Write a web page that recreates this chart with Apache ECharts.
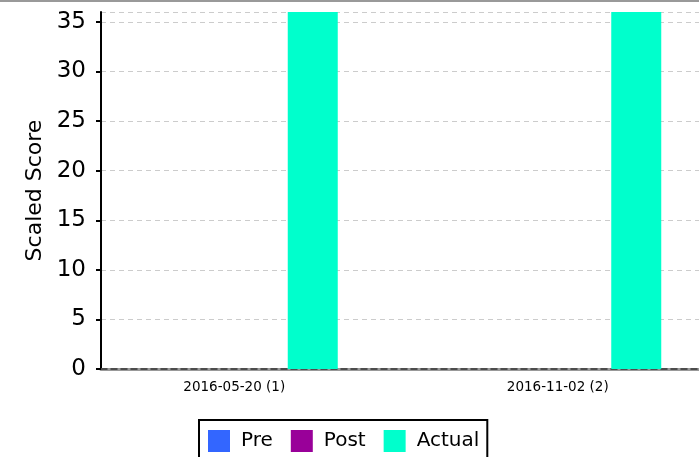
<!DOCTYPE html>
<html>
<head>
<meta charset="utf-8">
<script src="https://cdn.jsdelivr.net/npm/echarts@6/dist/echarts.min.js"></script>
<style>
html,body{margin:0;padding:0;background:#fff;overflow:hidden;width:699px;height:457px;}
#c{width:748px;height:457px;}
</style>
</head>
<body>
<div id="c"></div>
<script>
var categories = ['2016-05-20 (1)', '2016-11-02 (2)'];
var preValues = [0, 0];
var postValues = [0, 0];
var actualValues = [36, 36];
var seriesNames = ['Pre', 'Post', 'Actual'];
var seriesColors = ['#3366ff', '#990099', '#00ffcc'];

var chart = echarts.init(document.getElementById('c'));
var font = 'DejaVu Sans';
chart.setOption({
  animation: false,
  graphic: [{
    type: 'rect', shape: {x: 0, y: 0, width: 748, height: 2},
    style: {fill: '#999'}
  }],
  grid: {left: 101, right: 0, top: 12, bottom: 88, containLabel: false},
  legend: {
    data: seriesNames,
    left: 199, top: 420,
    padding: [10, 8, 10, 9],
    borderColor: '#000', borderWidth: 2,
    itemWidth: 22, itemHeight: 22, itemGap: 18,
    icon: 'rect',
    textStyle: {fontFamily: font, fontSize: 20, color: '#000', padding: [0, 0, 0, 6]}
  },
  xAxis: [{
    type: 'category', data: categories,
    axisTick: {show: false},
    axisLine: {lineStyle: {color: '#999', width: 3}},
    axisLabel: {fontFamily: font, fontSize: 13.5, color: '#000', margin: 11, padding: [0, 57, 0, 0]},
    splitLine: {show: false}
  }, {
    type: 'category', data: categories, position: 'bottom',
    axisTick: {show: false}, axisLabel: {show: false},
    axisLine: {lineStyle: {color: '#333', width: 1.5, type: [6, 4]}}
  }],
  yAxis: {
    type: 'value', min: 0, max: 36, interval: 5,
    name: 'Scaled Score', nameLocation: 'middle', nameGap: 55, nameRotate: 90,
    nameTextStyle: {fontFamily: font, fontSize: 22, color: '#000'},
    axisLine: {show: true, lineStyle: {color: '#000', width: 2}},
    axisTick: {show: true, length: 5, lineStyle: {color: '#000', width: 2}},
    axisLabel: {fontFamily: font, fontSize: 23, color: '#000', margin: 15, showMaxLabel: false},
    splitLine: {show: true, lineStyle: {color: '#ccc', type: [5, 4], width: 1}}
  },
  series: [
    {name: seriesNames[0], type: 'bar', data: preValues, barWidth: 50, barGap: '0%', itemStyle: {color: seriesColors[0]}},
    {name: seriesNames[1], type: 'bar', data: postValues, barWidth: 50, barGap: '0%', itemStyle: {color: seriesColors[1]}},
    {name: seriesNames[2], type: 'bar', data: actualValues, barWidth: 50, barGap: '0%', itemStyle: {color: seriesColors[2]}}
  ]
});
</script>
</body>
</html>
